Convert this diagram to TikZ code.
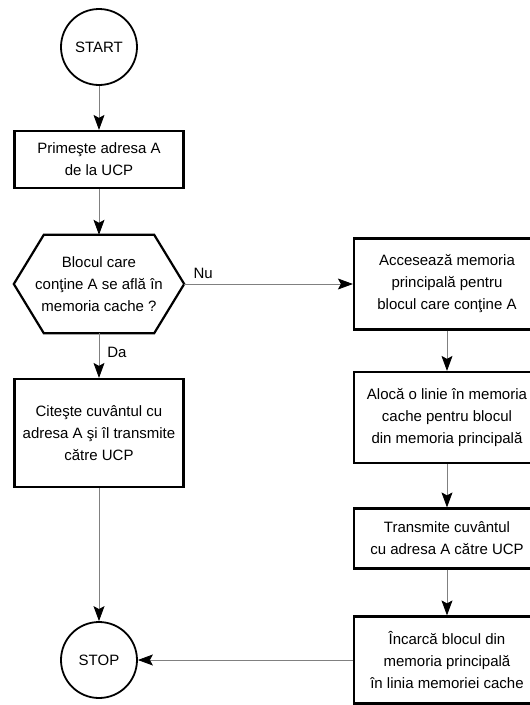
\documentclass[tikz,border=0pt]{standalone}
\usepackage{fontspec}
\setmainfont{Liberation Sans}
\usetikzlibrary{positioning, arrows.meta}

\begin{document}
\begin{tikzpicture}[
    x=1pt, y=1pt,
    >={Stealth[length=15pt, width=11pt, inset=3pt, black]},
    node distance=120pt,
    on grid,
    font=\fontsize{15}{22}\selectfont,
    term/.style={
        draw,
        circle,
        line width=1.8pt,
        minimum size=76pt,
        inner sep=0pt
    },
    box/.style={
        draw,
        rectangle,
        line width=2.2pt,
        align=center,
        inner sep=0pt
    },
    leftbox/.style={box, minimum width=169pt},
    rightbox/.style={box, minimum width=186pt},
    flow/.style={->, line width=0.8pt, every edge/.style={draw=gray}}
]
\useasboundingbox (-99,47) rectangle (431,-658);

% left column
\node[term] (start) {START};
\node[leftbox, minimum height=57pt, below=112.5pt of start] (prim) {Primeşte adresa A\\de la UCP};
\node[align=center, minimum width=170pt, minimum height=98pt, inner sep=0pt, below=124.5pt of prim] (bloc) {Blocul care\\conţine A se află în\\memoria cache ?};
\draw[line width=2.2pt] (bloc.west) -- ([xshift=30pt]bloc.north west) -- ([xshift=-30pt]bloc.north east)
    -- (bloc.east) -- ([xshift=-30pt]bloc.south east) -- ([xshift=30pt]bloc.south west) -- cycle;
\node[leftbox, minimum height=108pt, below=149pt of bloc] (cit) {Citeşte cuvântul cu\\adresa A şi îl transmite\\către UCP};
\node[term, below=227pt of cit] (stop) {STOP};

% right column
\node[rightbox, minimum height=91pt, right=348pt of bloc] (acces) {Accesează memoria\\principală pentru\\blocul care conţine A};
\node[rightbox, minimum height=91pt, below=133.5pt of acces] (aloc) {Alocă o linie în memoria\\cache pentru blocul\\din memoria principală};
\node[rightbox, minimum height=60pt, below=121pt of aloc] (transm) {Transmite cuvântul\\cu adresa A către UCP};
\node[rightbox, minimum height=87pt, below=121.5pt of transm] (incarc) {Încarcă blocul din\\memoria principală\\în linia memoriei cache};

% connectors
\path[flow]
(start) edge (prim)
(prim) edge (bloc)
(bloc.south) edge node[pos=0.43, anchor=west, inner sep=0pt, xshift=8pt] {Da} (cit)
(bloc.east) edge node[pos=0, anchor=south west, inner sep=0pt, xshift=9pt, yshift=5pt] {Nu} (acces)
(acces) edge (aloc)
(aloc) edge (transm)
(transm) edge (incarc)
(cit) edge (stop)
(incarc) edge (stop);
\end{tikzpicture}
\end{document}
